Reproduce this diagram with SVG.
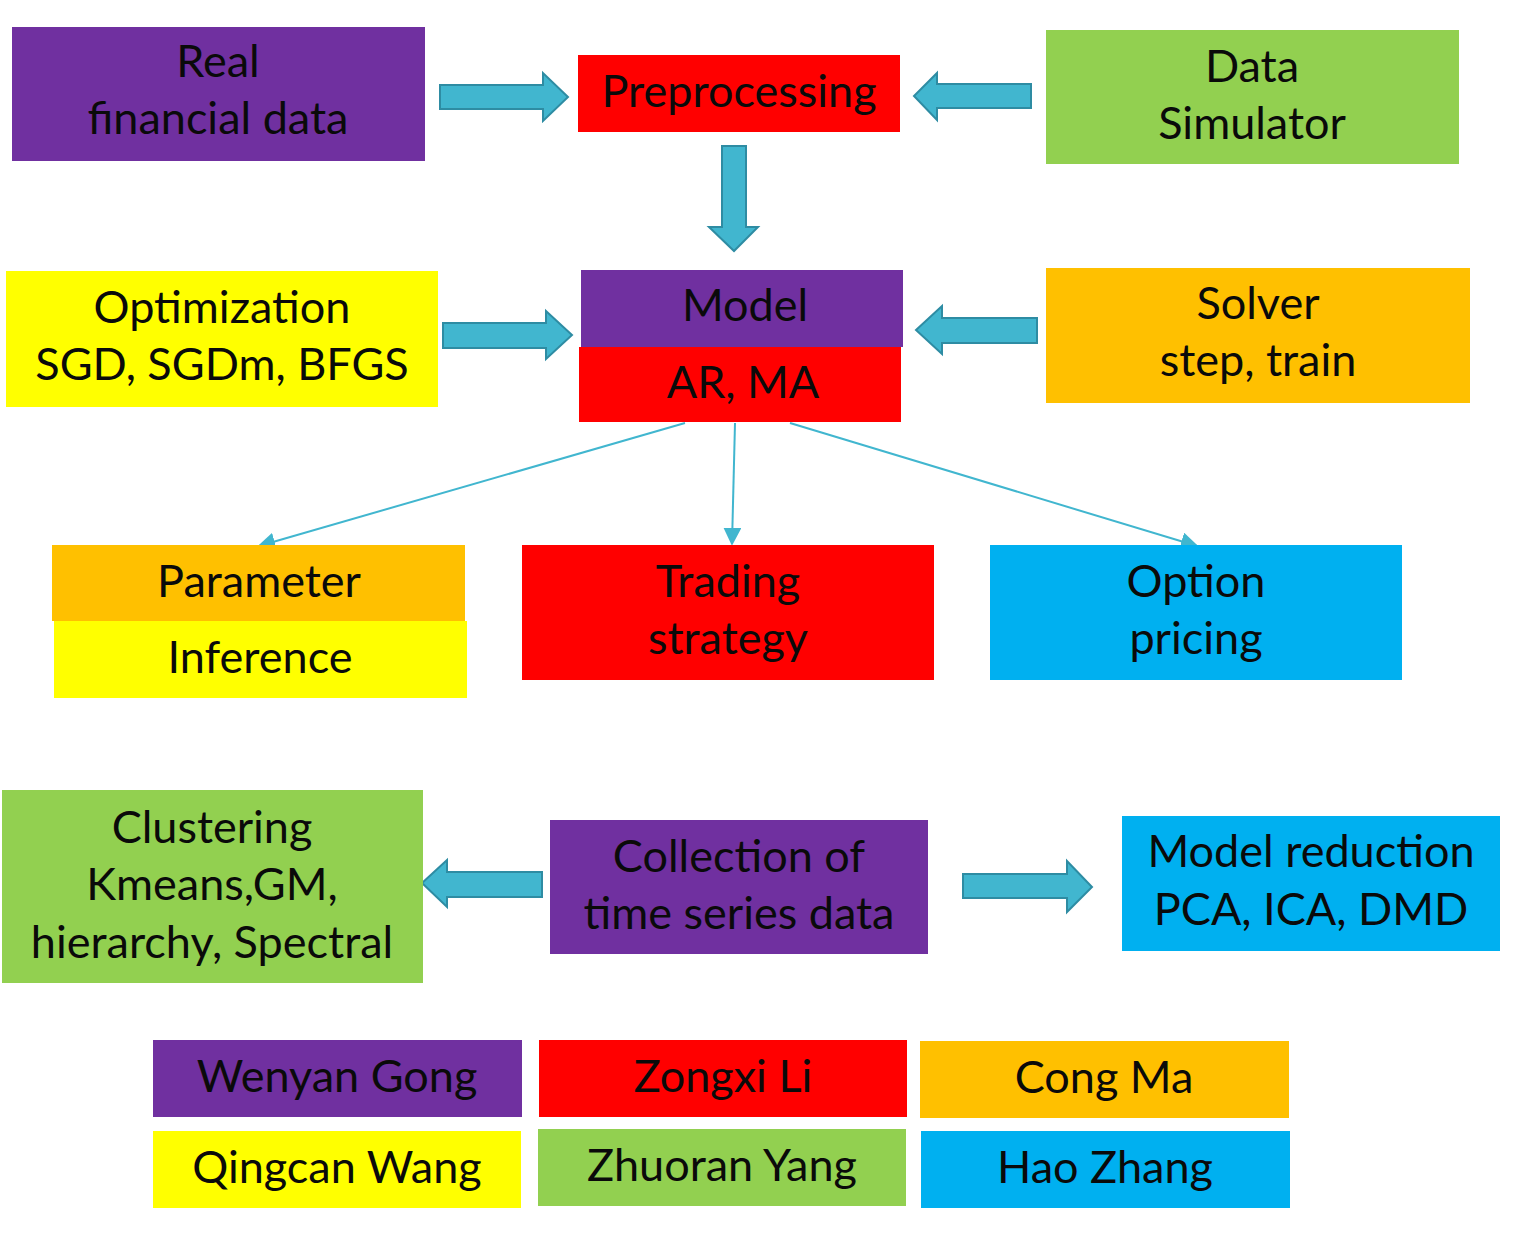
<svg xmlns="http://www.w3.org/2000/svg" width="1516" height="1240" viewBox="0 0 1516 1240">
<defs>
<style>
text{font-family:Lato,"Open Sans","Liberation Sans",sans-serif;font-size:45px;fill:#0a0a0a;text-anchor:middle}
.purple{fill:#7030A0}.red{fill:#FF0000}.green{fill:#92D050}.yellow{fill:#FFFF00}.orange{fill:#FFC000}.blue{fill:#00B0F0}
.block{fill:#41B6CF;stroke:#2E8CA3;stroke-width:2;stroke-linejoin:miter}
.thin{stroke:#41B6CF;stroke-width:2;fill:none;marker-end:url(#ah)}
</style>
<marker id="ah" viewBox="0 0 10 10" refX="9" refY="5" markerWidth="18" markerHeight="18" markerUnits="userSpaceOnUse" orient="auto">
<path d="M0,0 L10,5 L0,10 z" fill="#41B6CF"/>
</marker>
</defs>
<rect width="1516" height="1240" fill="#fff"/>
<g id="connectors">
<path class="block" d="M440,85 H543 V73 L568,97 L543,121 V109 H440 Z"/>
<path class="block" d="M722,146 H746 V227 H758 L734,251 L709,227 H722 Z"/>
<path class="block" d="M1031,84 H937 V73 L914,96 L937,120 V108 H1031 Z"/>
<path class="block" d="M443,323 H546 V311 L572,335 L546,359 V348 H443 Z"/>
<path class="block" d="M1037,318 H942 V306 L916,330 L942,354 V343 H1037 Z"/>
<path class="block" d="M542,872 H447 V860 L422,883 L447,907 V897 H542 Z"/>
<path class="block" d="M963,874 H1067 V861 L1092,887 L1067,912 V898 H963 Z"/>
<line class="thin" x1="685" y1="423" x2="259" y2="546"/>
<line class="thin" x1="735" y1="423" x2="732" y2="544"/>
<line class="thin" x1="790" y1="423" x2="1197" y2="546"/>
</g>
<g id="real-data"><rect class="purple" x="12" y="27" width="413" height="134"/><text x="218" y="77">Real</text><text x="218" y="134">financial data</text></g>
<g id="preprocessing"><rect class="red" x="578" y="55" width="322" height="77"/><text x="739" y="107">Preprocessing</text></g>
<g id="data-simulator"><rect class="green" x="1046" y="30" width="413" height="134"/><text x="1252" y="82">Data</text><text x="1252" y="139">Simulator</text></g>
<g id="optimization"><rect class="yellow" x="6" y="271" width="432" height="136"/><text x="222" y="323">Optimization</text><text x="222" y="380">SGD, SGDm, BFGS</text></g>
<g id="model"><rect class="purple" x="581" y="270" width="322" height="77"/><text x="745" y="321">Model</text></g>
<g id="ar-ma"><rect class="red" x="579" y="347" width="322" height="75"/><text x="743" y="398">AR, MA</text></g>
<g id="solver"><rect class="orange" x="1046" y="268" width="424" height="135"/><text x="1258" y="319">Solver</text><text x="1258" y="376">step, train</text></g>
<g id="parameter"><rect class="orange" x="52" y="545" width="413" height="76"/><text x="259" y="597">Parameter</text></g>
<g id="inference"><rect class="yellow" x="54" y="621" width="413" height="77"/><text x="260" y="673">Inference</text></g>
<g id="trading"><rect class="red" x="522" y="545" width="412" height="135"/><text x="728" y="597">Trading</text><text x="728" y="654">strategy</text></g>
<g id="option"><rect class="blue" x="990" y="545" width="412" height="135"/><text x="1196" y="597">Option</text><text x="1196" y="654">pricing</text></g>
<g id="clustering"><rect class="green" x="2" y="790" width="421" height="193"/><text x="212" y="843">Clustering</text><text x="212" y="900">Kmeans,GM,</text><text x="212" y="958">hierarchy, Spectral</text></g>
<g id="collection"><rect class="purple" x="550" y="820" width="378" height="134"/><text x="739" y="872">Collection of</text><text x="739" y="929">time series data</text></g>
<g id="model-reduction"><rect class="blue" x="1122" y="816" width="378" height="135"/><text x="1311" y="867">Model reduction</text><text x="1311" y="925">PCA, ICA, DMD</text></g>
<g id="wenyan"><rect class="purple" x="153" y="1040" width="369" height="77"/><text x="337" y="1092">Wenyan Gong</text></g>
<g id="zongxi"><rect class="red" x="539" y="1040" width="368" height="77"/><text x="723" y="1092">Zongxi Li</text></g>
<g id="cong"><rect class="orange" x="920" y="1041" width="369" height="77"/><text x="1104" y="1093">Cong Ma</text></g>
<g id="qingcan"><rect class="yellow" x="153" y="1131" width="368" height="77"/><text x="337" y="1183">Qingcan Wang</text></g>
<g id="zhuoran"><rect class="green" x="538" y="1129" width="368" height="77"/><text x="722" y="1181">Zhuoran Yang</text></g>
<g id="hao"><rect class="blue" x="921" y="1131" width="369" height="77"/><text x="1105" y="1183">Hao Zhang</text></g>
</svg>
